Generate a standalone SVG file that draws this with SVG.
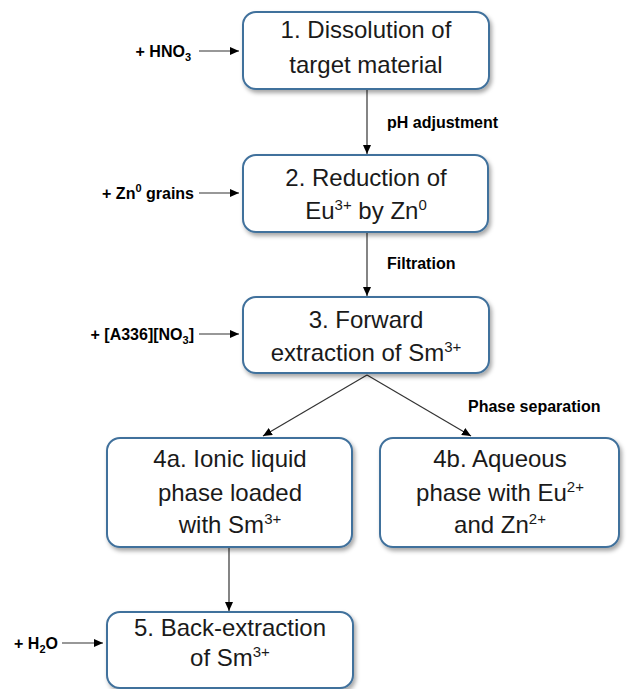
<svg xmlns="http://www.w3.org/2000/svg" width="627" height="689" viewBox="0 0 627 689">
<defs>
<filter id="sh" x="-10%" y="-10%" width="125%" height="130%">
<feDropShadow dx="2" dy="3" stdDeviation="2" flood-color="#000" flood-opacity="0.35"/>
</filter>
<marker id="ah" markerUnits="userSpaceOnUse" markerWidth="9" markerHeight="8" refX="9" refY="4" orient="auto">
<path d="M0,0 L9,4 L0,8 z" fill="#000"/>
</marker>
<style>
.box{fill:#fff;stroke:#41719C;stroke-width:2;filter:url(#sh)}
.t{font-family:"Liberation Sans",Arial,sans-serif;font-size:24px;fill:#1a1a1a;text-anchor:middle}
.l{font-family:"Liberation Sans",Arial,sans-serif;font-size:16px;font-weight:bold;fill:#000}
.e{text-anchor:end}
.c{fill:none;stroke:#333;stroke-width:1.2;marker-end:url(#ah)}
.sup{font-size:15px}
.sub{font-size:11px}
</style>
</defs>
<g id="connectors">
<line class="c" x1="199" y1="51" x2="239" y2="51"/>
<line class="c" x1="199" y1="193" x2="239" y2="193"/>
<line class="c" x1="199" y1="334" x2="239" y2="334"/>
<line class="c" x1="62" y1="643" x2="103" y2="643"/>
<line class="c" x1="367" y1="90" x2="367" y2="154"/>
<line class="c" x1="367" y1="233" x2="367" y2="296"/>
<line class="c" x1="367" y1="375" x2="263" y2="436"/>
<line class="c" x1="367" y1="375" x2="471" y2="436"/>
<line class="c" x1="229" y1="548" x2="229" y2="611"/>
<text class="l" x="387" y="128">pH adjustment</text>
<text class="l" x="387" y="269">Filtration</text>
<text class="l" x="468" y="412">Phase separation</text>
<text class="l e" x="191" y="57">+ HNO<tspan class="sub" dy="4">3</tspan></text>
<text class="l e" x="194" y="199">+ Zn<tspan class="sub" dy="-7">0</tspan><tspan dy="7"> grains</tspan></text>
<text class="l e" x="194" y="340">+ [A336][NO<tspan class="sub" dy="4">3</tspan><tspan dy="-4">]</tspan></text>
<text class="l e" x="58" y="649">+ H<tspan class="sub" dy="4">2</tspan><tspan dy="-4">O</tspan></text>
</g>
<g id="n1">
<rect class="box" x="243" y="12" width="246" height="77" rx="13"/>
<text class="t" x="366" y="38">1. Dissolution of</text>
<text class="t" x="366" y="73">target material</text>
</g>
<g id="n2">
<rect class="box" x="243" y="155" width="245" height="77" rx="13"/>
<text class="t" x="366" y="186">2. Reduction of</text>
<text class="t" x="366" y="219">Eu<tspan class="sup" dy="-9">3+</tspan><tspan dy="9"> by Zn</tspan><tspan class="sup" dy="-9">0</tspan></text>
</g>
<g id="n3">
<rect class="box" x="243" y="297" width="246" height="76" rx="13"/>
<text class="t" x="366" y="328">3. Forward</text>
<text class="t" x="366" y="361">extraction of Sm<tspan class="sup" dy="-9">3+</tspan></text>
</g>
<g id="n4a">
<rect class="box" x="107" y="438" width="245" height="109" rx="13"/>
<text class="t" x="230" y="467">4a. Ionic liquid</text>
<text class="t" x="230" y="501">phase loaded</text>
<text class="t" x="230" y="533">with Sm<tspan class="sup" dy="-9">3+</tspan></text>
</g>
<g id="n4b">
<rect class="box" x="380" y="438" width="239" height="109" rx="13"/>
<text class="t" x="500" y="467">4b. Aqueous</text>
<text class="t" x="500" y="501">phase with Eu<tspan class="sup" dy="-9">2+</tspan></text>
<text class="t" x="500" y="533">and Zn<tspan class="sup" dy="-9">2+</tspan></text>
</g>
<g id="n5">
<rect class="box" x="107" y="612" width="246" height="76" rx="13"/>
<text class="t" x="230" y="636">5. Back-extraction</text>
<text class="t" x="230" y="666">of Sm<tspan class="sup" dy="-9">3+</tspan></text>
</g>
</svg>
